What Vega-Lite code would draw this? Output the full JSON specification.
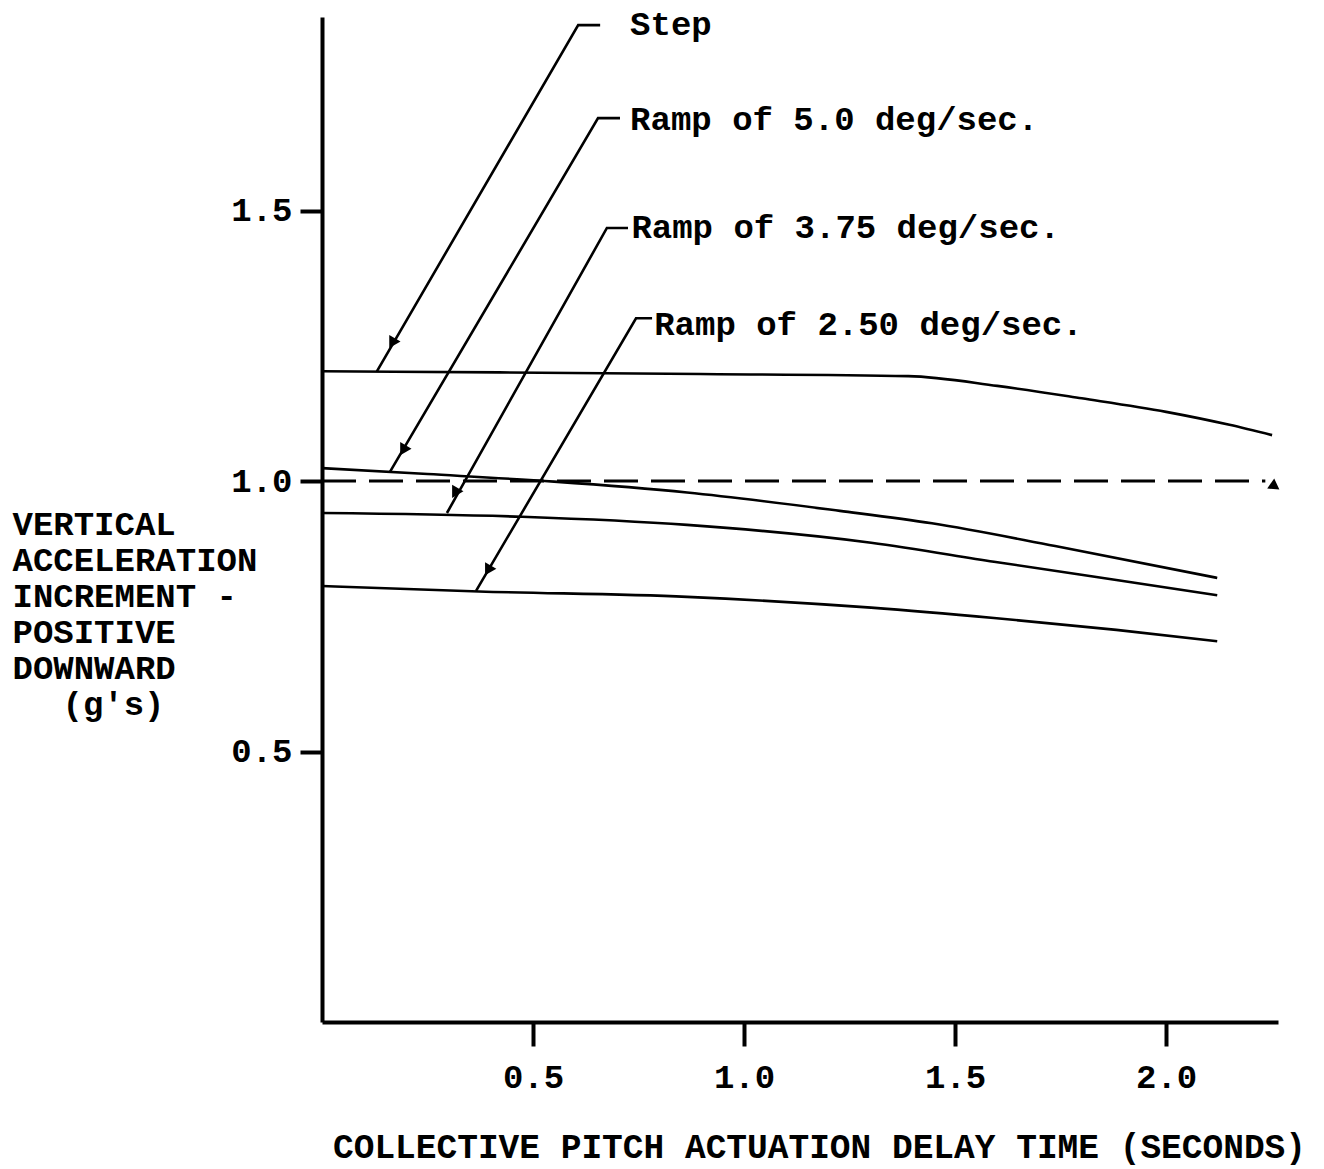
{
  "$schema": "https://vega.github.io/schema/vega-lite/v6.json",
  "width": 956,
  "height": 1005,
  "autosize": {"type": "none"},
  "padding": {"left": 322, "top": 17, "right": 46, "bottom": 147},
  "background": "white",
  "config": {
    "view": {"stroke": null},
    "axis": {
      "grid": false,
      "domainColor": "#000",
      "domainWidth": 4,
      "tickColor": "#000",
      "tickWidth": 4,
      "labelFont": "Liberation Mono",
      "labelFontWeight": "bold",
      "labelFontSize": 34,
      "labelColor": "#000",
      "titleFont": "Liberation Mono",
      "titleFontWeight": "bold",
      "titleFontSize": 35,
      "titleColor": "#000"
    }
  },
  "datasets": {
    "curves": [
      {"series": "Step", "x": 0, "y": 1.203},
      {"series": "Step", "x": 0.42, "y": 1.201},
      {"series": "Step", "x": 0.896, "y": 1.198},
      {"series": "Step", "x": 1.389, "y": 1.194},
      {"series": "Step", "x": 1.6, "y": 1.176},
      {"series": "Step", "x": 1.8, "y": 1.153},
      {"series": "Step", "x": 2.0, "y": 1.128},
      {"series": "Step", "x": 2.15, "y": 1.104},
      {"series": "Step", "x": 2.251, "y": 1.085},
      {"series": "Ramp 5.0", "x": 0, "y": 1.024},
      {"series": "Ramp 5.0", "x": 0.25, "y": 1.013},
      {"series": "Ramp 5.0", "x": 0.55, "y": 0.999},
      {"series": "Ramp 5.0", "x": 0.865, "y": 0.979},
      {"series": "Ramp 5.0", "x": 1.227, "y": 0.945},
      {"series": "Ramp 5.0", "x": 1.445, "y": 0.922},
      {"series": "Ramp 5.0", "x": 1.737, "y": 0.88},
      {"series": "Ramp 5.0", "x": 2.121, "y": 0.821},
      {"series": "Ramp 3.75", "x": 0, "y": 0.941},
      {"series": "Ramp 3.75", "x": 0.474, "y": 0.934},
      {"series": "Ramp 3.75", "x": 0.865, "y": 0.919},
      {"series": "Ramp 3.75", "x": 1.301, "y": 0.886},
      {"series": "Ramp 3.75", "x": 1.592, "y": 0.851},
      {"series": "Ramp 3.75", "x": 1.882, "y": 0.817},
      {"series": "Ramp 3.75", "x": 2.121, "y": 0.789},
      {"series": "Ramp 2.50", "x": 0, "y": 0.806},
      {"series": "Ramp 2.50", "x": 0.372, "y": 0.796},
      {"series": "Ramp 2.50", "x": 0.865, "y": 0.786},
      {"series": "Ramp 2.50", "x": 1.301, "y": 0.766},
      {"series": "Ramp 2.50", "x": 1.592, "y": 0.747},
      {"series": "Ramp 2.50", "x": 1.882, "y": 0.725},
      {"series": "Ramp 2.50", "x": 2.121, "y": 0.704}
    ],
    "reference": [
      {"x": 0, "y": 1.0},
      {"x": 2.235, "y": 1.0}
    ],
    "refArrow": [
      {"x": 2.258, "y": 0.99}
    ],
    "leaders": [
      {"id": "Step", "o": 1, "x": 0.659, "y": 1.843},
      {"id": "Step", "o": 2, "x": 0.607, "y": 1.843},
      {"id": "Step", "o": 3, "x": 0.13, "y": 1.203},
      {"id": "R5", "o": 1, "x": 0.706, "y": 1.671},
      {"id": "R5", "o": 2, "x": 0.654, "y": 1.671},
      {"id": "R5", "o": 3, "x": 0.161, "y": 1.017},
      {"id": "R375", "o": 1, "x": 0.725, "y": 1.468},
      {"id": "R375", "o": 2, "x": 0.675, "y": 1.468},
      {"id": "R375", "o": 3, "x": 0.296, "y": 0.941},
      {"id": "R25", "o": 1, "x": 0.782, "y": 1.301},
      {"id": "R25", "o": 2, "x": 0.744, "y": 1.301},
      {"id": "R25", "o": 3, "x": 0.365, "y": 0.797}
    ],
    "arrows": [
      {"x": 0.166, "y": 1.255},
      {"x": 0.192, "y": 1.057},
      {"x": 0.315, "y": 0.978},
      {"x": 0.393, "y": 0.835}
    ],
    "labels": [
      {"text": "Step", "x": 0.73, "y": 1.843},
      {"text": "Ramp of 5.0 deg/sec.", "x": 0.73, "y": 1.667},
      {"text": "Ramp of 3.75 deg/sec.", "x": 0.733, "y": 1.468},
      {"text": "Ramp of 2.50 deg/sec.", "x": 0.787, "y": 1.288}
    ]
  },
  "encoding": {
    "x": {
      "field": "x",
      "type": "quantitative",
      "scale": {"domain": [0, 2.265], "nice": false, "zero": false},
      "axis": {
        "values": [0.5, 1.0, 1.5, 2.0],
        "format": ".1f",
        "tickSize": 24,
        "labelPadding": 41,
        "labelBaseline": "alphabetic",
        "title": "COLLECTIVE PITCH ACTUATION DELAY TIME (SECONDS)",
        "titleFontSize": 34.5,
        "titleX": 497,
        "titleY": 135,
        "titleBaseline": "alphabetic",
        "titleAlign": "center"
      }
    },
    "y": {
      "field": "y",
      "type": "quantitative",
      "scale": {"domain": [0, 1.858], "nice": false, "zero": false},
      "axis": {
        "values": [0.5, 1.0, 1.5],
        "format": ".1f",
        "tickSize": 22,
        "labelPadding": 8,
        "labelBaseline": "middle",
        "title": ["VERTICAL", "ACCELERATION", "INCREMENT -", "POSITIVE", "DOWNWARD", "\u2800\u2800(g's)"],
        "titleFontSize": 34,
        "titleAngle": 0,
        "titleAlign": "left",
        "titleBaseline": "alphabetic",
        "titleX": -310,
        "titleY": 517,
        "titleLineHeight": 36
      }
    }
  },
  "layer": [
    {
      "data": {"name": "curves"},
      "mark": {"type": "line", "color": "#000", "strokeWidth": 2.6, "interpolate": "monotone"},
      "encoding": {"detail": {"field": "series"}}
    },
    {
      "data": {"name": "reference"},
      "mark": {"type": "line", "color": "#000", "strokeWidth": 3, "strokeDash": [34, 13]},
      "encoding": {}
    },
    {
      "data": {"name": "refArrow"},
      "mark": {"type": "point", "shape": "triangle-right", "filled": true, "color": "#000", "size": 150, "angle": 35, "opacity": 1}
    },
    {
      "data": {"name": "leaders"},
      "mark": {"type": "line", "color": "#000", "strokeWidth": 2.6},
      "encoding": {"detail": {"field": "id"}, "order": {"field": "o", "type": "quantitative"}}
    },
    {
      "data": {"name": "arrows"},
      "mark": {"type": "point", "shape": "triangle-down", "filled": true, "color": "#000", "size": 170, "angle": 30, "opacity": 1}
    },
    {
      "data": {"name": "labels"},
      "mark": {"type": "text", "align": "left", "baseline": "middle", "font": "Liberation Mono", "fontWeight": "bold", "fontSize": 34, "color": "#000"},
      "encoding": {"text": {"field": "text"}}
    }
  ]
}
